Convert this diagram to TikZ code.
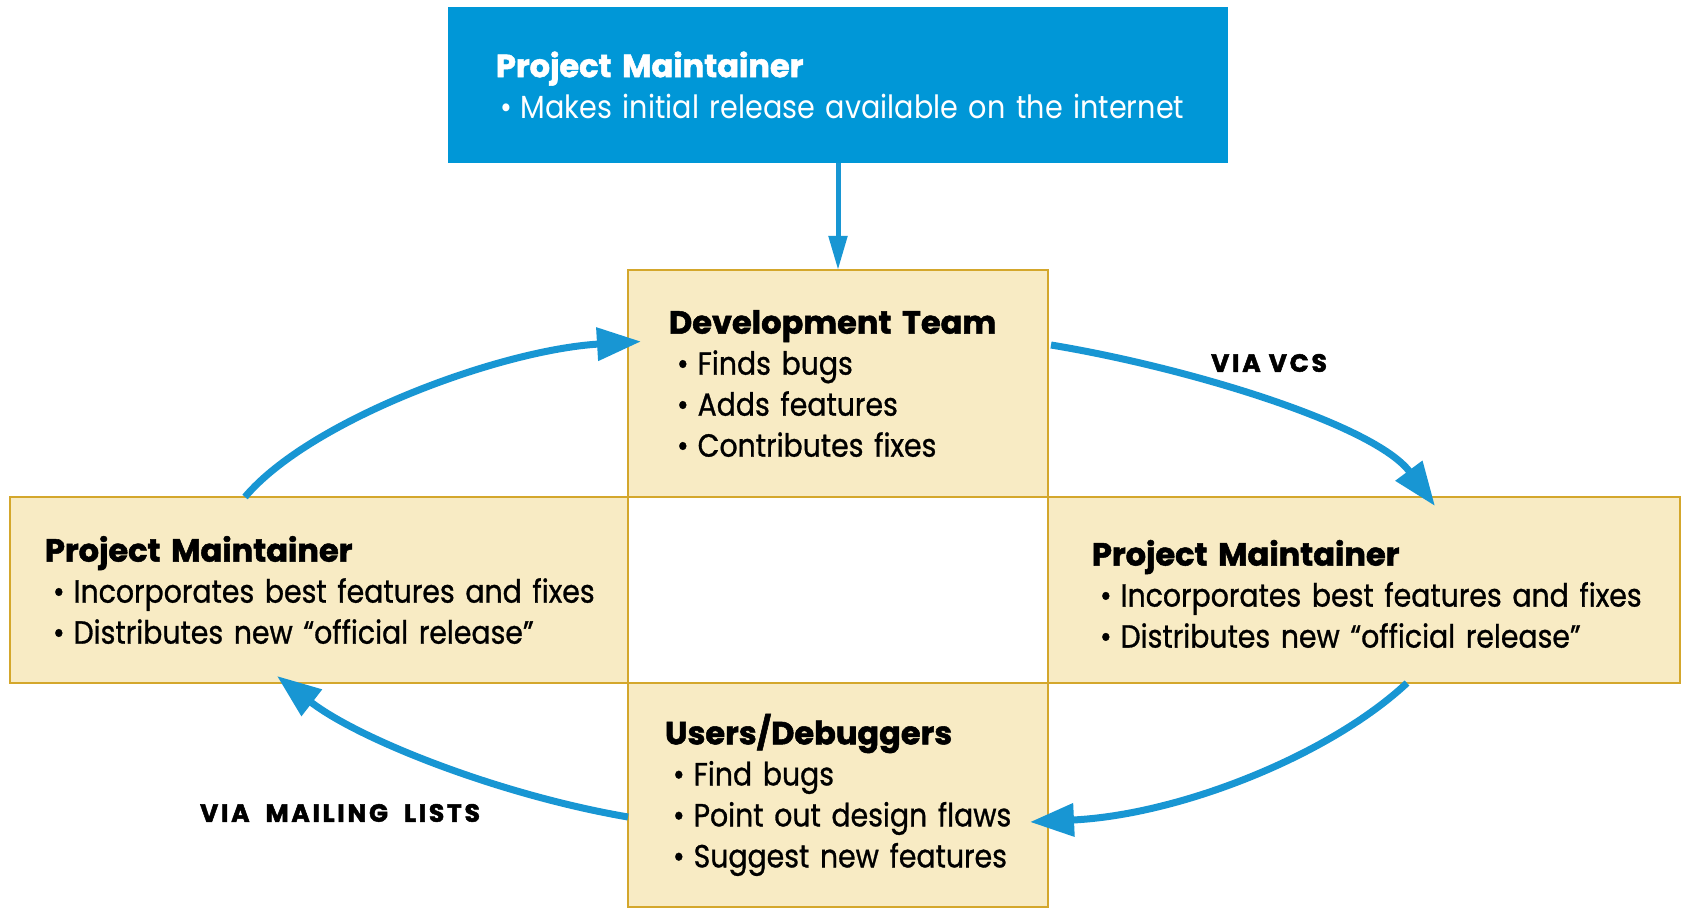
\documentclass[tikz,border=0pt]{standalone}
\usepackage{fontspec}
\setmainfont{Poppins}
\newfontfamily\headfont{Poppins}[FakeBold=1.6]
\newfontfamily\bodyfont{Poppins}[FakeStretch=0.885, FakeBold=0.9]
\newfontfamily\lightfont{Poppins}[FakeStretch=0.895]
\newfontfamily\lblfont{Poppins}[FakeBold=2, LetterSpace=11]
\usetikzlibrary{arrows.meta}
\definecolor{pmblue}{HTML}{0097D7}
\definecolor{arrowblue}{HTML}{1896D3}
\definecolor{boxfill}{HTML}{F8EBC4}
\definecolor{boxline}{HTML}{D4A72C}
\newcommand{\hd}{\fontsize{32}{41}\headfont\bfseries}
\newcommand{\bd}{\fontsize{32}{41}\bodyfont}
\newcommand{\lt}{\fontsize{32}{41}\lightfont}
\newcommand{\bul}[1]{\mbox{\hspace*{8pt}\textbullet\hspace{9pt}#1}}
\begin{document}
\begin{tikzpicture}[x=1pt,y=-1pt,
  box/.style={draw=boxline, line width=2.8pt, fill=boxfill, inner ysep=0pt, outer sep=0pt, align=left, text=black, font=\bd},
  topbox/.style={fill=pmblue, inner ysep=0pt, outer sep=0pt, align=left, text=white, font=\lt},
  carrow/.style={draw=arrowblue, line width=7pt, -{Triangle[length=44pt,width=32pt]}},
  sarrow/.style={draw=arrowblue, line width=5pt, -{Triangle[length=34pt,width=18pt]}},
  lbl/.style={font=\fontsize{25}{28}\lblfont\bfseries, text=black, inner sep=0pt}
]
\useasboundingbox (0,0) rectangle (1682,909);
\fill[white] (0,0) rectangle (1682,909);

\node[topbox, minimum width=780pt, minimum height=156pt, text width=684pt, inner xsep=48pt] (top) at (838,85)
  {\mbox{\hd Project Maintainer}\\\mbox{\hspace*{4pt}\textbullet\hspace{9pt}Makes initial release available on the internet}};

\node[box, minimum width=420pt, minimum height=227pt, text width=338pt, inner xsep=41pt] (dev) at (838,383.5)
  {\mbox{\hd Development Team}\\\bul{Finds bugs}\\\bul{Adds features}\\\bul{Contributes fixes}};

\node[box, minimum width=618pt, minimum height=186pt, text width=548pt, inner xsep=35pt] (lpm) at (319,590)
  {\mbox{\hd Project Maintainer}\\\bul{Incorporates best features and fixes}\\\bul{Distributes new “official release”}};

\node[box, minimum width=632pt, minimum height=186pt, text width=544pt, inner xsep=44pt] (rpm) at (1364,590)
  {\rule{0pt}{8pt}\\[-15.5pt]\mbox{\hd Project Maintainer}\\\bul{Incorporates best features and fixes}\\\bul{Distributes new “official release”}};

\node[box, minimum width=420pt, minimum height=224pt, text width=346pt, inner xsep=37pt] (users) at (838,795)
  {\mbox{\hd Users/Debuggers}\\\bul{Find bugs}\\\bul{Point out design flaws}\\\bul{Suggest new features}};

\coordinate (a1s) at ([xshift=235pt]lpm.north west);
\coordinate (a1e) at ([xshift=13pt,yshift=42pt]dev.west);
\coordinate (a2s) at ([xshift=3pt,yshift=38.5pt]dev.east);
\coordinate (a2e) at ([xshift=387pt,yshift=-9pt]rpm.north west);
\coordinate (a3s) at ([xshift=359pt]rpm.south west);
\coordinate (a3e) at ([xshift=-18pt,yshift=-27pt]users.east);
\coordinate (a4s) at ([yshift=-22pt]users.west);
\coordinate (a4e) at ([xshift=267pt,yshift=7pt]lpm.south west);

\draw[sarrow] (top.south) -- (dev.north);
\draw[carrow] (a1s) .. controls (310,420) and (500,350) .. (a1e);
\draw[carrow] (a2s) .. controls (1190,368) and (1375,425) .. (a2e);
\draw[carrow] (a3s) .. controls (1330,755) and (1180,815) .. (a3e);
\draw[carrow] (a4s) .. controls (500,795) and (360,740) .. (a4e);

\node[lbl] (vcs) at (1269,363) {VIA VCS};
\node[lbl] (mail) at (340,813) {VIA\hspace{8pt} MAILING\hspace{8pt} LISTS};
\end{tikzpicture}
\end{document}
